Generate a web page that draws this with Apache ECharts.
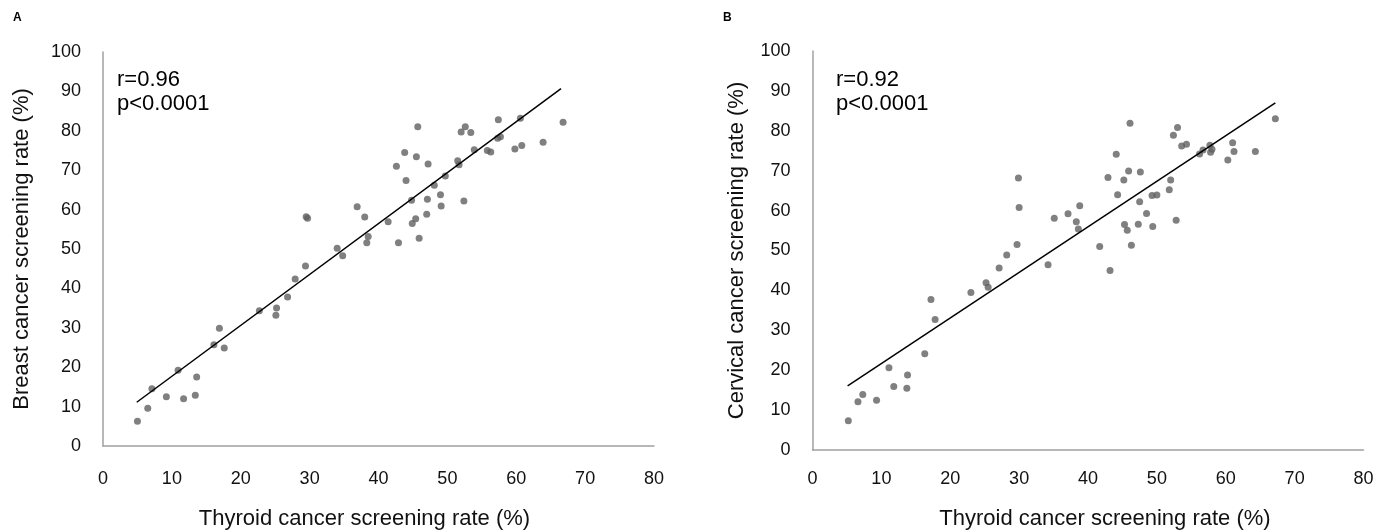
<!DOCTYPE html>
<html><head><meta charset="utf-8">
<script src="https://cdn.jsdelivr.net/npm/echarts@6/dist/echarts.min.js"></script>
<style>html,body{margin:0;padding:0;background:#fff}#c{width:1379px;height:530px}</style>
</head><body><div id="c"></div>
<script>
// Panel A: thyroid (x) vs breast (y)
const pointsA = [
[5.0,6.3],[6.5,9.6],[7.1,14.5],[9.2,12.5],[10.9,19.2],[11.7,12.0],[13.4,12.9],[13.6,17.5],
[16.1,25.7],[16.9,29.9],[17.6,24.9],[22.7,34.3],[25.1,33.2],[25.2,35.0],[26.8,37.8],[27.9,42.4],
[29.4,45.7],[29.5,58.2],[29.7,57.8],[34.0,50.2],[34.8,48.3],[36.9,60.7],[38.0,58.1],[38.3,51.6],
[38.5,53.2],[41.4,56.9],[42.6,71.0],[42.9,51.6],[43.8,74.5],[44.0,67.4],[44.8,62.4],[44.9,56.5],
[45.4,57.7],[45.5,73.4],[45.7,81.0],[45.9,52.7],[47.0,58.8],[47.1,62.6],[47.2,71.6],[48.1,66.2],
[49.0,63.8],[49.1,60.9],[49.7,68.5],[51.5,72.4],[51.7,71.4],[52.0,79.7],[52.4,62.2],[52.6,81.0],
[53.4,79.6],[53.9,75.2],[55.8,75.0],[56.3,74.6],[57.3,78.1],[57.7,78.5],[57.4,82.8],[59.8,75.4],
[60.6,83.2],[60.8,76.3],[63.9,77.1],[66.8,82.2]
];
const trendA = [[4.9,11.1],[66.5,90.7]];
// Panel B: thyroid (x) vs cervical (y)
const pointsB = [
[5.2,7.3],[6.6,12.1],[7.3,13.9],[9.3,12.5],[11.1,20.6],[11.8,15.9],[13.7,15.5],[13.8,18.8],
[16.3,24.1],[17.2,37.7],[17.8,32.7],[23.0,39.5],[25.2,41.9],[25.5,40.8],[27.1,45.6],[28.2,48.9],
[29.7,51.5],[29.9,68.2],[30.0,60.8],[34.2,46.4],[35.1,58.1],[37.1,59.2],[38.3,57.2],[38.6,55.4],
[38.8,61.2],[41.7,51.0],[42.9,68.3],[43.2,45.0],[44.1,74.1],[44.3,64.0],[45.2,67.7],[45.3,56.5],
[45.7,55.1],[45.9,69.9],[46.1,81.9],[46.3,51.3],[47.3,56.6],[47.5,62.2],[47.6,69.7],[48.5,59.3],
[49.3,63.8],[49.4,56.0],[50.0,63.9],[51.8,65.2],[52.0,67.7],[52.4,78.9],[52.8,57.6],[53.0,80.8],
[53.6,76.2],[54.3,76.6],[56.2,74.2],[56.7,75.2],[57.7,76.4],[58.0,75.4],[57.8,74.6],[60.3,72.7],
[61.0,77.0],[61.2,74.8],[64.3,74.8],[67.2,83.0]
];
const trendB = [[5.1,16.1],[67.2,87.0]];
const xTitle = 'Thyroid cancer screening rate (%)';
const yTitleA = 'Breast cancer screening rate (%)';
const yTitleB = 'Cervical cancer screening rate (%)';
const statsA = ['r=0.96','p<0.0001'];
const statsB = ['r=0.92','p<0.0001'];

const FONT = '"Liberation Sans", Arial, sans-serif';
const axisLine = {show:true, lineStyle:{color:'#a0a0a0', width:1.5}};
function xAx(gi,pad,margin,gap){return {gridIndex:gi,type:'value',min:0,max:80,interval:10,
  axisLine:axisLine,axisTick:{show:false},splitLine:{show:false},
  axisLabel:{fontFamily:FONT,fontSize:18,color:'#111',margin:margin},
  name:xTitle,nameLocation:'middle',nameGap:gap,
  nameTextStyle:{fontFamily:FONT,fontSize:22,color:'#111',padding:pad}};}
function yAx(gi,title,gap){return {gridIndex:gi,type:'value',min:0,max:100,interval:10,
  axisLine:axisLine,axisTick:{show:false},splitLine:{show:false},
  axisLabel:{fontFamily:FONT,fontSize:18,color:'#111',margin:22},
  name:title,nameLocation:'middle',nameGap:gap,nameTextStyle:{fontFamily:FONT,fontSize:22,color:'#111'}};}
const chart = echarts.init(document.getElementById('c'),null,{renderer:'canvas'});
chart.setOption({
  animation:false,
  grid:[{left:103,top:52,width:551,height:394,containLabel:false,outerBoundsMode:'none'},
        {left:812.5,top:51,width:551,height:399,containLabel:false,outerBoundsMode:'none'}],
  xAxis:[xAx(0,[0,28,0,0],24,62),xAx(1,[0,0,0,34],20,58)],
  yAxis:[yAx(0,yTitleA,70),yAx(1,yTitleB,65)],
  series:[
    {type:'scatter',xAxisIndex:0,yAxisIndex:0,data:pointsA,symbolSize:7,itemStyle:{color:'#606060'}},
    {type:'line',xAxisIndex:0,yAxisIndex:0,data:trendA,symbol:'none',lineStyle:{color:'#000',width:1.5}},
    {type:'scatter',xAxisIndex:1,yAxisIndex:1,data:pointsB,symbolSize:7,itemStyle:{color:'#606060'}},
    {type:'line',xAxisIndex:1,yAxisIndex:1,data:trendB,symbol:'none',lineStyle:{color:'#000',width:1.5}}
  ],
  graphic:[
    {type:'text',left:13,top:12,style:{text:'A',font:'bold 12px '+FONT,fill:'#000'}},
    {type:'text',left:723,top:12,style:{text:'B',font:'bold 12px '+FONT,fill:'#000'}},
    {type:'text',left:117,top:68,style:{text:statsA.join('\n'),font:'22px '+FONT,fill:'#000',lineHeight:24}},
    {type:'text',left:836,top:68,style:{text:statsB.join('\n'),font:'22px '+FONT,fill:'#000',lineHeight:24}}
  ]
});
</script></body></html>
